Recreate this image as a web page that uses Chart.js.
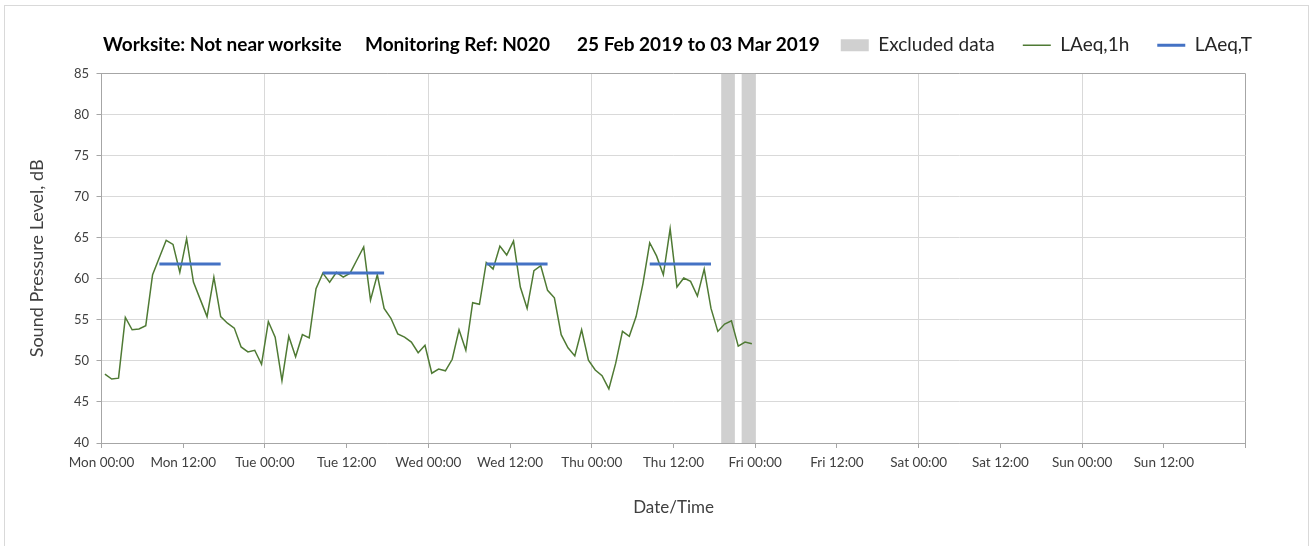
<!DOCTYPE html>
<html>
<head>
<meta charset="utf-8">
<title>Noise monitoring N020</title>
<script src="https://cdn.jsdelivr.net/npm/chart.js@4.4.0/dist/chart.umd.min.js"></script>
<style>
  html, body { margin: 0; padding: 0; overflow: hidden; background: #fff; }
  #wrap { position: relative; width: 1309px; height: 546px; }
  #frame { position: absolute; left: 4px; top: 5px; width: 1303px; height: 600px; border: 1px solid #d9d9d9; }
  canvas { position: absolute; left: 0; top: 0; }
  .title { position: absolute; top: 33px; font: bold 19px Lato, sans-serif; line-height: 22px; color: #000; white-space: nowrap; }
</style>
</head>
<body>
<div id="wrap">
  <div id="frame"></div>
  <canvas id="noiseChart" width="1309" height="546"></canvas>
  <div class="title" style="left:103px">Worksite: Not near worksite</div>
  <div class="title" style="left:365px">Monitoring Ref: N020</div>
  <div class="title" style="left:577px">25 Feb 2019 to 03 Mar 2019</div>
</div>
<script>
// x axis labels, one every 12 hours from Mon 00:00 (last tick has none)
const tickLabels = ['Mon 00:00', 'Mon 12:00', 'Tue 00:00', 'Tue 12:00', 'Wed 00:00', 'Wed 12:00',
    'Thu 00:00', 'Thu 12:00', 'Fri 00:00', 'Fri 12:00', 'Sat 00:00', 'Sat 12:00',
    'Sun 00:00', 'Sun 12:00', ''];

// LAeq,1h - one value per hour, starting Mon 00:00
const laeq1h = [
    48.4, 47.8, 47.9, 55.3, 53.8, 53.9, 54.3, 60.5, 62.6, 64.7, 64.2, 60.8,
    64.9, 59.6, 57.5, 55.4, 60.2, 55.4, 54.6, 54.0, 51.7, 51.1, 51.3, 49.6,
    54.8, 52.9, 47.6, 53.0, 50.5, 53.2, 52.8, 58.8, 60.7, 59.6, 60.8, 60.2,
    60.7, 62.3, 63.9, 57.4, 60.5, 56.4, 55.2, 53.3, 52.9, 52.3, 51.0, 51.9,
    48.5, 49.0, 48.8, 50.2, 53.8, 51.3, 57.1, 56.9, 62.0, 61.2, 64.0, 62.9,
    64.6, 59.0, 56.4, 61.0, 61.6, 58.6, 57.7, 53.2, 51.6, 50.6, 53.8, 50.1,
    48.9, 48.2, 46.6, 49.7, 53.6, 53.0, 55.4, 59.4, 64.4, 62.8, 60.5, 66.1,
    59.0, 60.1, 59.7, 57.9, 61.2, 56.4, 53.6, 54.5, 54.9, 51.8, 52.3, 52.1
];

// LAeq,T daytime periods (hours from Mon 00:00)
const periodStart = [8.5, 32.5, 56.5, 80.5];
const periodEnd = [17.5, 41.5, 65.5, 89.5];
const laeqT = [61.8, 60.7, 61.8, 61.8];

// Excluded data blocks (centre hour)
const excludedHours = [92, 95];

const yMin = 40;
const yMax = 85;

const hourlyPoints = laeq1h.map((v, i) => ({ x: i + 0.5, y: v }));

const periodPoints = [];
laeqT.forEach((v, i) => {
    periodPoints.push({ x: periodStart[i], y: v });
    periodPoints.push({ x: periodEnd[i], y: v });
    periodPoints.push({ x: periodEnd[i], y: null }); // break between days
});

const excludedBars = excludedHours.map(h => ({ x: h, y: [yMin, yMax] }));

// lift the legend row up so it sits on the same line as the title
const legendNudge = {
    id: 'legendNudge',
    afterLayout(chart) {
        chart.legend.top -= 9;
        chart.legend.bottom -= 9;
    }
};

Chart.defaults.font.family = 'Lato, sans-serif';
Chart.defaults.color = '#595959';

new Chart(document.getElementById('noiseChart'), {
    type: 'line',
    data: {
        datasets: [
            {
                type: 'bar',
                label: 'Excluded data',
                data: excludedBars,
                backgroundColor: '#d0d0d0',
                borderWidth: 0,
                barThickness: 13,
                order: 3
            },
            {
                type: 'line',
                label: 'LAeq,1h',
                data: hourlyPoints,
                borderColor: '#4f7a34',
                borderWidth: 1.5,
                pointRadius: 0,
                tension: 0,
                order: 2
            },
            {
                type: 'line',
                label: 'LAeq,T',
                data: periodPoints,
                borderColor: '#4472c4',
                borderWidth: 3,
                pointRadius: 0,
                spanGaps: false,
                order: 1
            }
        ]
    },
    plugins: [legendNudge],
    options: {
        responsive: false,
        animation: false,
        events: [],
        layout: {
            padding: { left: 0, right: 29, top: 0, bottom: 0 }
        },
        plugins: {
            tooltip: { enabled: false },
            legend: {
                position: 'top',
                align: 'end',
                labels: {
                    usePointStyle: true,
                    pointStyleWidth: 28,
                    boxHeight: 12,
                    padding: 28,
                    color: '#262626',
                    font: { size: 19 },
                    generateLabels: function(chart) {
                        return chart.data.datasets.map((ds, i) => {
                            const isBar = ds.type === 'bar';
                            return {
                                text: ds.label,
                                fillStyle: isBar ? ds.backgroundColor : ds.borderColor,
                                strokeStyle: isBar ? ds.backgroundColor : ds.borderColor,
                                lineWidth: isBar ? 0 : ds.borderWidth,
                                pointStyle: isBar ? 'rect' : 'line',
                                fontColor: '#262626',
                                hidden: false,
                                datasetIndex: i
                            };
                        });
                    }
                }
            }
        },
        scales: {
            x: {
                type: 'linear',
                min: 0,
                max: 168,
                offset: false,
                afterFit: function(scale) {
                    scale.height = 103;
                    scale.paddingRight = 63.4;
                },
                ticks: {
                    stepSize: 12,
                    autoSkip: false,
                    maxRotation: 0,
                    padding: 7,
                    color: '#404040',
                    font: { size: 13.5 },
                    callback: function(value) {
                        return tickLabels[Math.round(value / 12)];
                    }
                },
                grid: {
                    offset: false,
                    color: function(ctx) {
                        if (!ctx.tick) return 'rgba(0,0,0,0)';
                        if (ctx.tick.value === 168) return '#a6a6a6';
                        return ctx.tick.value % 24 === 0 ? '#d9d9d9' : 'rgba(0,0,0,0)';
                    },
                    tickColor: '#a6a6a6',
                    tickLength: 5
                },
                border: { color: '#a6a6a6' },
                title: {
                    display: true,
                    text: 'Date/Time',
                    color: '#404040',
                    font: { size: 17 },
                    padding: { top: 0, bottom: 27.8 }
                }
            },
            y: {
                min: yMin,
                max: yMax,
                afterFit: function(scale) {
                    scale.width = 101.5;
                    scale.paddingTop = 73.7;
                },
                ticks: {
                    stepSize: 5,
                    padding: 7.5,
                    color: '#404040',
                    font: { size: 13 }
                },
                grid: {
                    color: function(ctx) {
                        return ctx.tick && ctx.tick.value === yMax ? '#a6a6a6' : '#d9d9d9';
                    },
                    tickColor: '#a6a6a6',
                    tickLength: 5
                },
                border: { color: '#a6a6a6' },
                title: {
                    display: true,
                    text: 'Sound Pressure Level, dB',
                    color: '#404040',
                    font: { size: 18 },
                    padding: { top: 26.2, bottom: 0 }
                }
            }
        }
    }
});
</script>
</body>
</html>
